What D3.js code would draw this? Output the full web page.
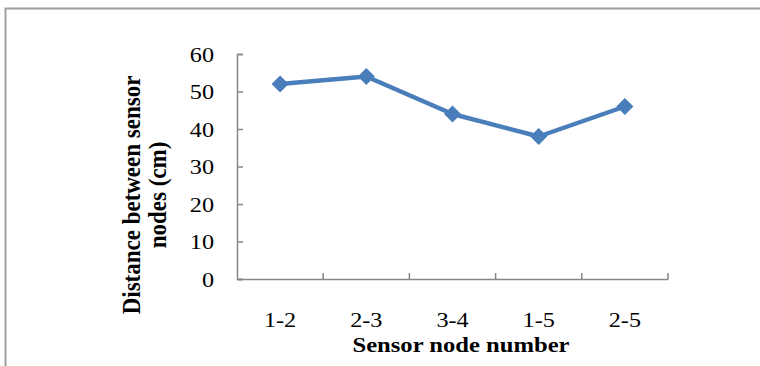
<!DOCTYPE html>
<html><head><meta charset="utf-8">
<script src="https://cdn.jsdelivr.net/npm/d3@7"></script>
<style>body{margin:0;background:#fff}svg{display:block}text{font-family:"Liberation Serif","Times New Roman",serif;fill:#000}</style>
</head><body>
<script>
const categories = ["1-2","2-3","3-4","1-5","2-5"];
const values = [52, 54, 44, 38, 46];
const yTicks = [0,10,20,30,40,50,60];
const xTitle = "Sensor node number";
const yTitleLines = ["Distance between sensor","nodes (cm)"];

const W=760,H=366, SX=1.1;
const svg=d3.select("body").append("svg").attr("width",W).attr("height",H);
// frame
svg.append("path").attr("d","M5.5,366 V8.5 H760").attr("fill","none").attr("stroke","#a0a0a0").attr("stroke-width",2);

const x=d3.scaleBand().domain(categories).range([237,668]);
const y=d3.scaleLinear().domain([0,60]).range([279,54]);
const axisColor="#868686";

function stretch(sel){
  sel.each(function(){
    const t=d3.select(this);
    const xx=+t.attr("x")||0;
    t.attr("transform",`translate(${xx},0) scale(${SX},1) translate(${-xx},0)`);
  });
}

// y axis
const ya=svg.append("g").attr("transform","translate(237,0)")
  .call(d3.axisLeft(y).tickValues(yTicks).tickSizeInner(-6).tickSizeOuter(-6).tickPadding(23).tickFormat(d3.format("d")));
ya.select(".domain").attr("stroke",axisColor).attr("stroke-width",1.5);
ya.selectAll(".tick line").attr("stroke",axisColor).attr("stroke-width",1.5);
ya.selectAll("text").style("font-size","22px").style("font-family","'Liberation Serif',serif").attr("fill","#000").call(stretch);

// x axis
const xa=svg.append("g").attr("transform","translate(0,279)")
  .call(d3.axisBottom(x).tickSize(0).tickPadding(32));
xa.select(".domain").attr("stroke",axisColor).attr("stroke-width",1.5);
xa.selectAll("text").style("font-size","22px").style("font-family","'Liberation Serif',serif").attr("fill","#000");
xa.selectAll(".tick text").each(function(){
  d3.select(this).attr("transform",`scale(${SX},1)`);
});
// x ticks at band boundaries (inside)
const bounds=categories.map(c=>x(c)+x.bandwidth());
xa.selectAll(".bt").data(bounds).enter().append("line")
  .attr("x1",d=>d).attr("x2",d=>d).attr("y1",0).attr("y2",-6)
  .attr("stroke",axisColor).attr("stroke-width",1.5);

// line
const cx=c=>x(c)+x.bandwidth()/2;
svg.append("path").datum(values)
  .attr("d",d3.line().x((d,i)=>cx(categories[i])).y(d=>y(d)))
  .attr("fill","none").attr("stroke","#4a7ebb").attr("stroke-width",4.5).attr("stroke-linejoin","round");
svg.selectAll(".m").data(values).enter().append("path")
  .attr("d",d3.symbol().type(d3.symbolDiamond2).size(185))
  .attr("transform",(d,i)=>`translate(${cx(categories[i])},${y(d)})`)
  .attr("fill","#4a7ebb");

// titles
svg.append("text").attr("transform",`translate(461,352) scale(1.12,1)`).attr("text-anchor","middle")
  .style("font-size","22px").style("font-weight","bold").text(xTitle);
yTitleLines.forEach((t,i)=>{
  svg.append("text").attr("transform",`translate(${140+i*26},195) scale(1.1,1) rotate(-90)`)
    .attr("text-anchor","middle").style("font-size","23px").style("font-weight","bold").text(t);
});
</script>
</body></html>
